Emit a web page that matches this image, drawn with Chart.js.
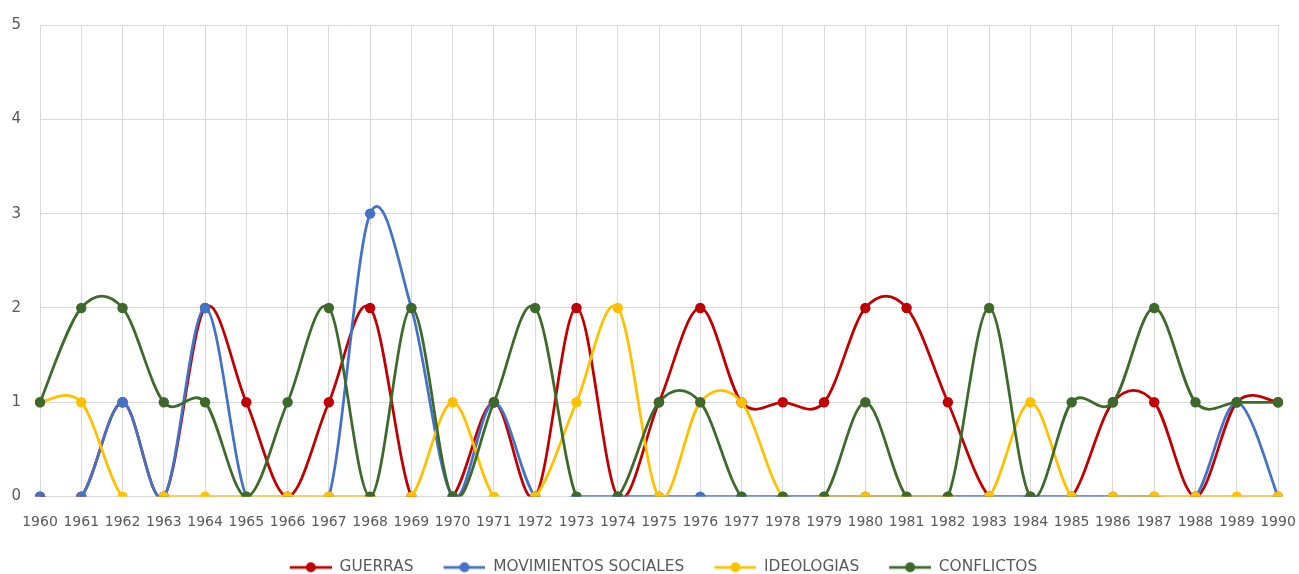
<!DOCTYPE html>
<html>
<head>
<meta charset="utf-8">
<script src="https://cdn.jsdelivr.net/npm/chart.js@4"></script>
<style>
  html, body { margin: 0; padding: 0; background: #fff; }
  #wrap { width: 1299px; height: 574px; }
</style>
</head>
<body>
<div id="wrap"><canvas id="chart"></canvas></div>
<script>
// years on the x axis
const years = [];
for (let y = 1960; y <= 1990; y++) years.push(String(y));

const guerras = [0, 0, 1, 0, 2, 1, 0, 1, 2, 0, 0, 1, 0, 2, 0, 1, 2, 1, 1, 1, 2, 2, 1, 0, 0, 0, 1, 1, 0, 1, 1];
const movimientos = [0, 0, 1, 0, 2, 0, 0, 0, 3, 2, 0, 1, 0, 0, 0, 0, 0, 0, 0, 0, 0, 0, 0, 0, 0, 0, 0, 0, 0, 1, 0];
const ideologias = [1, 1, 0, 0, 0, 0, 0, 0, 0, 0, 1, 0, 0, 1, 2, 0, 1, 1, 0, 0, 0, 0, 0, 0, 1, 0, 0, 0, 0, 0, 0];
const conflictos = [1, 2, 2, 1, 1, 0, 1, 2, 0, 2, 0, 1, 2, 0, 0, 1, 1, 0, 0, 0, 1, 0, 0, 2, 0, 1, 1, 2, 1, 1, 1];

const yTicks = [0, 1, 2, 3, 4, 5];

const RED = '#C00000', BLUE = '#4472C4', YELLOW = '#FFC000', GREEN = '#3D6A2B';
const TEXT = '#595959';
const FONT = "'DejaVu Sans', sans-serif";

// legend marker: short line with a dot, like excel (left part left blank for spacing)
function legendMark(color) {
    const c = document.createElement('canvas');
    c.width = 51; c.height = 12;
    const g = c.getContext('2d');
    g.strokeStyle = color;
    g.lineWidth = 2.75;
    g.beginPath(); g.moveTo(9, 6); g.lineTo(51, 6); g.stroke();
    g.fillStyle = color;
    g.beginPath(); g.arc(30, 6, 5, 0, Math.PI * 2); g.fill();
    return c;
}

// excel style smoothing: catmull-rom control points, 1/6 of neighbour span
const excelSmooth = {
    id: 'excelSmooth',
    beforeDatasetDraw(chart, args) {
        const meta = args.meta;
        const pts = meta.data;
        const n = pts.length;
        for (let i = 0; i < n; i++) {
            const p = pts[i];
            const a = pts[Math.max(i - 1, 0)];
            const b = pts[Math.min(i + 1, n - 1)];
            const dx = (b.x - a.x) / 6, dy = (b.y - a.y) / 6;
            p.cp1x = p.x - dx; p.cp1y = p.y - dy;
            p.cp2x = p.x + dx; p.cp2y = p.y + dy;
        }
        if (meta.dataset) {
            meta.dataset._pointsUpdated = true;
            meta.dataset._path = undefined;
        }
    }
};

function series(label, data, color, order) {
    return {
        label: label,
        data: data,
        borderColor: color,
        backgroundColor: color,
        borderWidth: 2.75,
        pointRadius: 5.2,
        pointHoverRadius: 5.2,
        pointBorderWidth: 0,
        tension: 0.4,
        order: order
    };
}

const data = {
    labels: years,
    datasets: [
        series('GUERRAS', guerras, RED, 4),
        series('MOVIMIENTOS SOCIALES', movimientos, BLUE, 3),
        series('IDEOLOGIAS', ideologias, YELLOW, 2),
        series('CONFLICTOS', conflictos, GREEN, 1)
    ]
};

const config = {
    type: 'line',
    data: data,
    plugins: [excelSmooth],
    options: {
        responsive: true,
        maintainAspectRatio: false,
        animation: false,
        layout: { padding: { left: 0, right: 21, top: 25, bottom: -11 } },
        scales: {
            x: {
                grid: { color: '#D9D9D9', lineWidth: 1, drawTicks: false },
                border: { display: false },
                ticks: {
                    color: TEXT, font: { family: FONT, size: 14 },
                    maxRotation: 0, autoSkip: false, padding: 17
                },
                afterFit: function (s) {
                    s.height = 42;
                    s.paddingLeft = 0;
                    s.paddingRight = 0;
                }
            },
            y: {
                min: 0, max: 5,
                grid: { color: '#D9D9D9', lineWidth: 1, drawTicks: false },
                border: { display: false },
                afterBuildTicks: function (s) { s.ticks = yTicks.map(v => ({ value: v })); },
                ticks: { color: TEXT, font: { family: FONT, size: 15 }, padding: 19 },
                afterFit: function (s) {
                    s.width = 40;
                    s.paddingTop = 0;
                    s.paddingBottom = 0;
                }
            }
        },
        plugins: {
            tooltip: { enabled: false },
            legend: {
                position: 'bottom',
                fullSize: false,
                labels: {
                    usePointStyle: true,
                    pointStyleWidth: 51,
                    color: TEXT,
                    font: { family: FONT, size: 15.4 },
                    padding: 21,
                    sort: (a, b) => a.datasetIndex - b.datasetIndex,
                    generateLabels: function (chart) {
                        const items = Chart.defaults.plugins.legend.labels.generateLabels(chart);
                        items.forEach(it => {
                            it.pointStyle = legendMark(chart.data.datasets[it.datasetIndex].borderColor);
                        });
                        return items;
                    }
                }
            }
        }
    }
};

new Chart(document.getElementById('chart'), config);
</script>
</body>
</html>
